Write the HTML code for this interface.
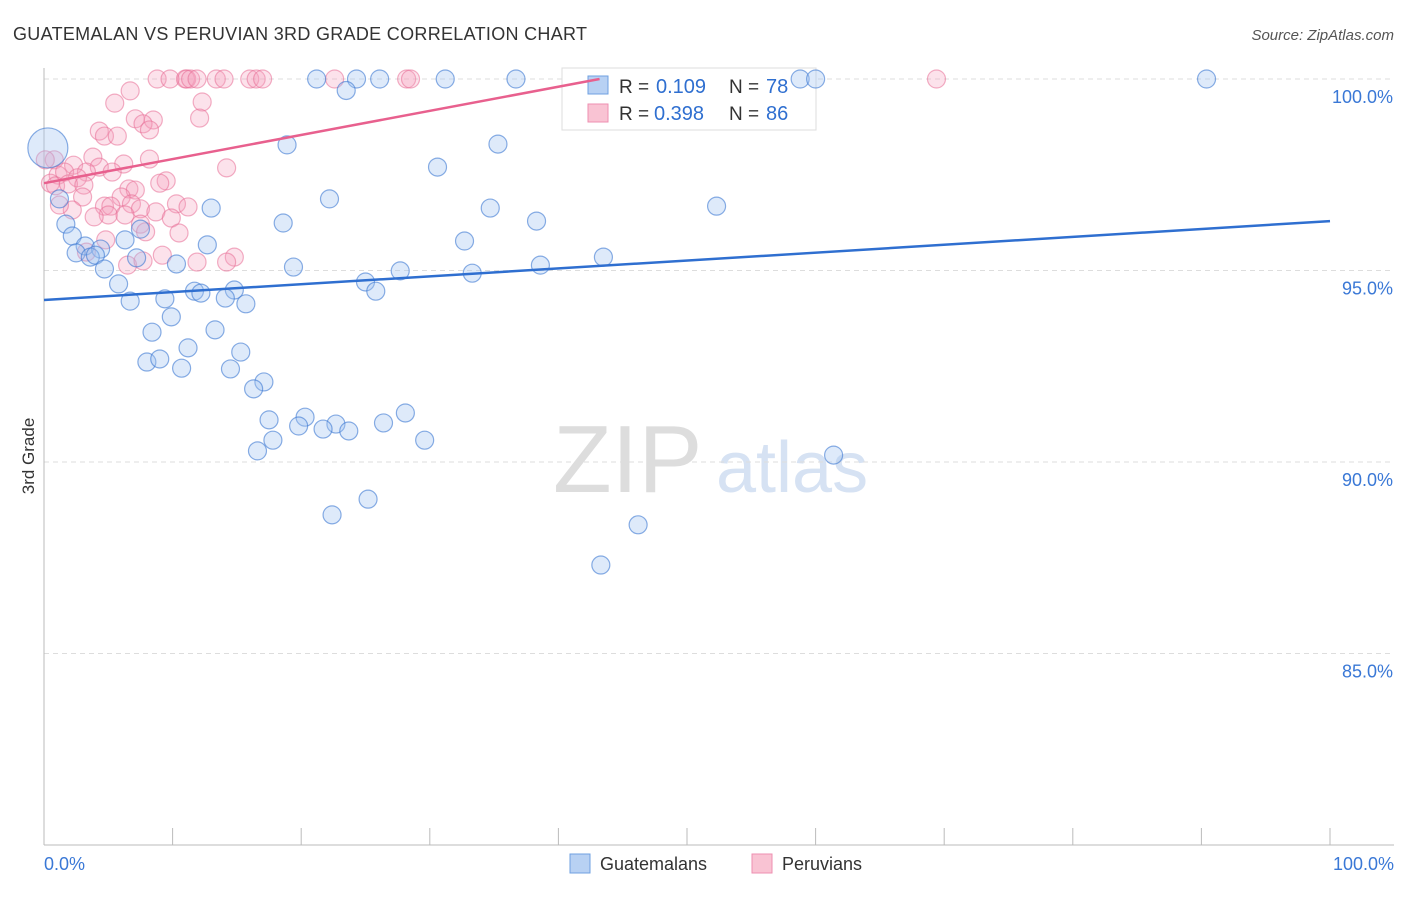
<!DOCTYPE html>
<html><head><meta charset="utf-8"><style>
body{margin:0;background:#fff;font-family:"Liberation Sans",sans-serif}
svg text{font-family:"Liberation Sans",sans-serif}
</style></head><body>
<svg width="1406" height="892" id="chart">
<text x="13" y="40" font-size="18" fill="#333" textLength="574">GUATEMALAN VS PERUVIAN 3RD GRADE CORRELATION CHART</text>
<text x="1394" y="40" font-size="15" fill="#555" text-anchor="end" font-style="italic">Source: ZipAtlas.com</text>
<text x="553" y="492" font-size="96" fill="#ddd" font-family="Liberation Serif">ZIP</text>
<text x="716" y="492" font-size="72" fill="#d6e2f3">atlas</text>
<text transform="translate(34,456) rotate(-90)" font-size="17" fill="#333" text-anchor="middle">3rd Grade</text>
<g id="grid"></g>
<g>
<rect x="562" y="68" width="254" height="62" fill="#fff" stroke="#ddd"/>
<rect x="588" y="76" width="20" height="18" fill="#b8d1f3" stroke="#6fa0e0"/>
<rect x="588" y="104" width="20" height="18" fill="#f9c3d3" stroke="#ee8fb0"/>
<text x="619" y="93" font-size="19" fill="#333">R =</text>
<text x="656" y="93" font-size="20" fill="#2f6fd0">0.109</text>
<text x="729" y="93" font-size="19" fill="#333">N =</text>
<text x="766" y="93" font-size="20" fill="#2f6fd0">78</text>
<text x="619" y="120" font-size="19" fill="#333">R =</text>
<text x="654" y="120" font-size="20" fill="#2f6fd0">0.398</text>
<text x="729" y="120" font-size="19" fill="#333">N =</text>
<text x="766" y="120" font-size="20" fill="#2f6fd0">86</text>
</g>
<g id="pts"></g><g id="trend"></g>
<g>
<rect x="570" y="854" width="20" height="19" fill="#b8d1f3" stroke="#6fa0e0"/>
<text x="600" y="870" font-size="18" fill="#333">Guatemalans</text>
<rect x="752" y="854" width="20" height="19" fill="#f9c3d3" stroke="#ee8fb0"/>
<text x="782" y="870" font-size="18" fill="#333">Peruvians</text>
</g>
</svg>
<script>
const yTicks=[100,95,90,85];
const yTickLabels=["100.0%","95.0%","90.0%","85.0%"];
const xTickLabels=["0.0%","100.0%"];
const blueX=[21.2,24.3,26.1,31.2,36.7,58.8,60.0,90.4,23.5,18.9,35.3,30.6,0.3,1.2,22.2,13.0,34.7,52.3,38.3,1.7,2.2,18.6,32.7,12.7,3.2,4.4,6.3,7.5,2.5,3.6,4.0,7.2,10.3,19.4,27.7,33.3,38.6,43.5,4.7,5.8,25.0,25.8,11.7,12.2,14.8,14.1,6.7,9.4,15.7,9.9,8.4,13.3,11.2,15.3,8.0,9.0,10.7,14.5,17.1,16.3,17.5,28.1,20.3,19.8,22.7,21.7,23.7,26.4,17.8,29.6,16.6,61.4,22.4,25.2,46.2,43.3];
const blueY=[100,100,100,100,100,100,100,100,99.7,98.28,98.3,97.7,98.2,96.87,96.87,96.63,96.63,96.68,96.29,96.21,95.9,96.24,95.77,95.67,95.64,95.56,95.8,96.08,95.46,95.35,95.4,95.33,95.17,95.09,94.99,94.93,95.14,95.35,95.04,94.65,94.7,94.46,94.46,94.41,94.49,94.28,94.2,94.26,94.13,93.79,93.39,93.45,92.98,92.87,92.61,92.69,92.45,92.43,92.09,91.91,91.1,91.28,91.17,90.94,90.99,90.86,90.81,91.02,90.57,90.57,90.29,90.18,88.62,89.03,88.36,87.31];
const pinkX=[8.8,9.8,11.0,11.1,11.4,11.9,13.4,14.0,16.0,16.5,17.0,22.6,28.2,28.5,69.4,6.7,5.5,12.3,12.1,7.1,8.5,7.7,8.2,4.3,4.7,5.7,3.8,8.2,2.3,6.2,4.3,0.8,0.1,5.3,14.2,1.1,1.6,3.3,2.6,0.5,0.9,1.9,3.1,6.6,9.5,9.0,7.1,6.0,3.0,4.7,5.2,5.0,6.8,7.5,2.2,3.9,6.3,8.7,10.3,9.9,7.5,7.9,10.5,4.8,9.2,14.8,11.9,14.2,6.5,7.7,3.3,11.2,1.2];
const pinkY=[100,100,100,100,100,100,100,100,100,100,100,100,100,100,100,99.69,99.37,99.4,98.98,98.96,98.93,98.83,98.67,98.64,98.51,98.51,97.96,97.91,97.75,97.78,97.7,97.89,97.89,97.57,97.68,97.49,97.57,97.57,97.42,97.28,97.21,97.26,97.23,97.13,97.34,97.28,97.1,96.92,96.92,96.68,96.68,96.45,96.74,96.61,96.58,96.4,96.45,96.53,96.74,96.37,96.21,96.01,95.98,95.8,95.4,95.35,95.22,95.22,95.14,95.25,95.48,96.66,96.71];
const blueTrend=[[0,94.23],[100,96.29]];
const pinkTrend=[[0,97.28],[43.2,100]];
const NS="http://www.w3.org/2000/svg";
const sx=v=>44+v*12.86, sy=v=>79+(100-v)*38.3;
function mk(t,a,p){const e=document.createElementNS(NS,t);for(const k in a)e.setAttribute(k,a[k]);p.appendChild(e);return e;}
const grid=document.getElementById('grid');
yTicks.forEach((t,i)=>{
 const l=mk('line',{x1:44,x2:1394,y1:sy(t),y2:sy(t),stroke:'#ddd','stroke-dasharray':'5,4'},grid);
 
 
 const tx=mk('text',{x:1393,y:sy(t)+24,'font-size':18,fill:'#3a78d6','text-anchor':'end'},grid);
 tx.textContent=yTickLabels[i];
 
 
});
const ax=mk('line',{x1:44,x2:44,y1:68,y2:845,stroke:'#bbb'},grid);


const bx=mk('line',{x1:44,x2:1394,y1:845,y2:845,stroke:'#bbb'},grid);


for(let i=0;i<=10;i++){const t=mk('line',{x1:sx(i*10),x2:sx(i*10),y1:828,y2:845,stroke:'#bbb'},grid);
 
 }
[[0,'start',44],[100,'end',1394]].forEach((d,i)=>{const t=mk('text',{x:d[2],y:870,'font-size':18,fill:'#3a78d6','text-anchor':d[1]},grid);t.textContent=xTickLabels[i];
 
 });
const pts=document.getElementById('pts');
pinkX.forEach((x,i)=>{const c=mk('circle',{cx:sx(x),cy:sy(pinkY[i]),r:9,fill:'rgba(244,160,188,0.3)',stroke:'rgba(232,110,150,0.55)','stroke-width':1.2},pts);
 
 });
blueX.forEach((x,i)=>{const c=mk('circle',{cx:sx(x),cy:sy(blueY[i]),r:i==12?20:9,fill:'rgba(160,195,240,0.35)',stroke:'rgba(60,120,210,0.6)','stroke-width':1.2},pts);
 
 });
const tr=document.getElementById('trend');
const b=mk('line',{x1:sx(blueTrend[0][0]),y1:sy(blueTrend[0][1]),x2:sx(blueTrend[1][0]),y2:sy(blueTrend[1][1]),stroke:'#2f6fd0','stroke-width':2.5},tr);


const p=mk('line',{x1:sx(pinkTrend[0][0]),y1:sy(pinkTrend[0][1]),x2:sx(pinkTrend[1][0]),y2:sy(pinkTrend[1][1]),stroke:'#e8608e','stroke-width':2.5},tr);


</script>
</body></html>
